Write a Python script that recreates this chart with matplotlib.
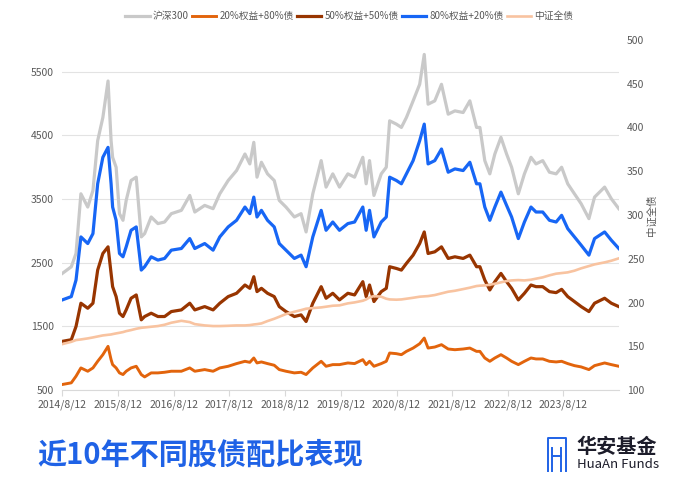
import datetime as dt
import matplotlib
matplotlib.use("Agg")
import matplotlib.pyplot as plt
from matplotlib.lines import Line2D

plt.rcParams['font.family'] = ['Noto Sans CJK SC', 'DejaVu Sans']

# values (approximate)
dates = [
    "2014-08-12", "2014-10-10", "2014-11-10", "2014-12-12", "2015-01-26", "2015-03-01",
    "2015-04-01", "2015-05-05", "2015-06-08", "2015-06-28", "2015-07-08", "2015-07-31",
    "2015-08-22", "2015-09-14", "2015-10-05", "2015-11-06", "2015-12-10", "2016-01-12",
    "2016-02-03", "2016-03-17", "2016-04-30", "2016-06-13", "2016-07-27", "2016-10-01",
    "2016-11-25", "2016-12-28", "2017-03-03", "2017-04-27", "2017-06-10", "2017-08-04",
    "2017-09-28", "2017-11-22", "2017-12-24", "2018-01-19", "2018-02-09", "2018-03-10",
    "2018-04-19", "2018-06-02", "2018-07-05", "2018-08-18", "2018-10-12", "2018-11-25",
    "2018-12-28", "2019-02-10", "2019-04-06", "2019-05-08", "2019-06-21", "2019-08-04",
    "2019-09-28", "2019-11-11", "2020-01-04", "2020-01-26", "2020-02-17", "2020-03-17",
    "2020-05-04", "2020-06-06", "2020-06-28", "2020-08-11", "2020-09-13", "2020-10-16",
    "2020-11-29", "2021-01-11", "2021-02-10", "2021-03-07", "2021-04-20", "2021-06-03",
    "2021-07-17", "2021-08-30", "2021-10-23", "2021-12-06", "2022-01-19", "2022-02-10",
    "2022-03-14", "2022-04-16", "2022-05-19", "2022-06-28", "2022-08-04", "2022-09-06",
    "2022-10-20", "2022-11-29", "2023-01-11", "2023-02-13", "2023-03-29", "2023-05-12",
    "2023-06-25", "2023-07-31", "2023-09-09", "2023-10-23", "2023-12-06", "2024-01-26",
    "2024-03-03", "2024-05-08", "2024-06-21", "2024-08-09",
]

hs300 = [
    2333, 2437, 2646, 3583, 3375, 3635, 4417, 4781, 5354, 4417, 4156, 4000,
    3271, 3167, 3479, 3792, 3844, 2906, 2958, 3219, 3115, 3140, 3271, 3323,
    3557, 3297, 3401, 3349, 3583, 3792, 3948, 4208, 4052, 4391, 3844, 4078,
    3896, 3792, 3479, 3375, 3219, 3271, 2984, 3583, 4104, 3688, 3896, 3688,
    3896, 3844, 4156, 3740, 4104, 3557, 3896, 4000, 4729, 4677, 4625, 4781,
    5042, 5302, 5771, 4990, 5042, 5302, 4833, 4885, 4859, 5042, 4625, 4625,
    4104, 3896, 4208, 4469, 4208, 4000, 3583, 3896, 4156, 4052, 4104, 3922,
    3896, 4000, 3740, 3583, 3427, 3193, 3531, 3688, 3505, 3349,
]

eq20 = [
    589, 615, 719, 849, 797, 849, 953, 1057, 1188, 979, 901, 849,
    771, 745, 797, 849, 875, 745, 708, 771, 771, 781, 797, 797,
    849, 797, 823, 797, 849, 875, 917, 953, 937, 1005, 927, 943,
    917, 891, 823, 797, 771, 781, 745, 849, 953, 875, 901, 901,
    927, 917, 979, 901, 953, 875, 917, 953, 1083, 1073, 1057, 1109,
    1161, 1229, 1318, 1161, 1177, 1214, 1146, 1135, 1146, 1161, 1109, 1109,
    1005, 953, 1005, 1057, 1005, 953, 901, 953, 1005, 990, 990, 953,
    943, 953, 917, 885, 865, 823, 885, 927, 901, 875,
]

eq50 = [
    1266, 1292, 1500, 1865, 1786, 1865, 2385, 2646, 2750, 2333, 2125, 1969,
    1708, 1656, 1760, 1943, 1995, 1604, 1656, 1708, 1656, 1656, 1734, 1760,
    1865, 1760, 1812, 1760, 1865, 1969, 2021, 2151, 2099, 2281, 2047, 2099,
    2021, 1969, 1812, 1734, 1656, 1682, 1578, 1865, 2125, 1943, 2021, 1917,
    2021, 1995, 2203, 1969, 2151, 1891, 2047, 2099, 2438, 2411, 2385, 2490,
    2620, 2802, 2984, 2646, 2672, 2750, 2568, 2594, 2568, 2620, 2438, 2438,
    2229, 2073, 2203, 2333, 2203, 2099, 1917, 2021, 2151, 2125, 2125, 2047,
    2031, 2083, 1969, 1891, 1812, 1734, 1865, 1943, 1865, 1812,
]

eq80 = [
    1917, 1969, 2229, 2906, 2802, 2958, 3740, 4156, 4312, 3740, 3375, 3167,
    2646, 2594, 2750, 3010, 3063, 2385, 2438, 2594, 2542, 2568, 2698, 2724,
    2880, 2724, 2802, 2698, 2906, 3063, 3167, 3375, 3271, 3531, 3219, 3323,
    3167, 3063, 2802, 2698, 2568, 2620, 2438, 2906, 3323, 3010, 3140, 3010,
    3115, 3140, 3375, 3010, 3323, 2906, 3140, 3219, 3844, 3792, 3740, 3896,
    4104, 4417, 4677, 4052, 4104, 4286, 3922, 3974, 3948, 4078, 3740, 3740,
    3375, 3167, 3375, 3609, 3401, 3219, 2880, 3140, 3375, 3297, 3297, 3167,
    3140, 3245, 3036, 2906, 2776, 2620, 2880, 2984, 2854, 2724,
]

bond = [
    152.6, 155.2, 157.2, 157.9, 159.1, 160.2, 161.3, 162.5, 163.2, 163.6, 164.0, 164.8,
    165.5, 166.3, 167.4, 168.6, 170.1, 171.2, 171.6, 172.4, 173.2, 174.7, 177.0, 179.2,
    177.7, 175.4, 173.9, 173.2, 173.2, 173.5, 173.9, 173.9, 174.3, 175.0, 175.4, 176.2,
    178.9, 181.5, 183.8, 186.9, 189.5, 191.4, 193.0, 193.7, 194.5, 195.3, 196.4, 196.8,
    199.1, 200.2, 202.1, 203.6, 205.9, 207.4, 206.7, 204.4, 203.6, 203.3, 203.6, 204.4,
    205.5, 206.7, 207.1, 207.4, 208.6, 210.5, 212.4, 213.5, 215.4, 217.0, 218.9, 219.3,
    219.6, 220.4, 221.5, 223.1, 224.6, 225.3, 225.7, 225.3, 226.1, 227.3, 228.8, 231.1,
    233.0, 233.7, 234.5, 236.4, 239.1, 241.7, 243.6, 245.9, 247.8, 250.5,
]

tick_dates = ["2014-08-12", "2015-08-12", "2016-08-12", "2017-08-12", "2018-08-12",
              "2019-08-12", "2020-08-12", "2021-08-12", "2022-08-12", "2023-08-12"]
tick_labels = ["2014/8/12", "2015/8/12", "2016/8/12", "2017/8/12", "2018/8/12",
               "2019/8/12", "2020/8/12", "2021/8/12", "2022/8/12", "2023/8/12"]

left_ticks = [500, 1500, 2500, 3500, 4500, 5500]
right_ticks = [100, 150, 200, 250, 300, 350, 400, 450, 500]

x = [dt.datetime.strptime(d, "%Y-%m-%d") for d in dates]
xt = [dt.datetime.strptime(d, "%Y-%m-%d") for d in tick_dates]

fig = plt.figure(figsize=(7, 4.92), dpi=100)
ax = fig.add_axes([0.089, 0.207, 0.795, 0.712])
ax2 = ax.twinx()

c_gray = '#c9c9c9'
c_orange = '#e2640c'
c_brown = '#983500'
c_blue = '#1766f5'
c_peach = '#f8c3a0'
txt = '#595959'

l1, = ax.plot(x, hs300, color=c_gray, lw=2.3, label='沪深300')
l2, = ax.plot(x, eq20, color=c_orange, lw=2.1, label='20%权益+80%债')
l3, = ax.plot(x, eq50, color=c_brown, lw=2.3, label='50%权益+50%债')
l4, = ax.plot(x, eq80, color=c_blue, lw=2.3, label='80%权益+20%债')
l5, = ax2.plot(x, bond, color=c_peach, lw=1.9, label='中证全债')

ax.set_xlim(x[0], x[-1])
ax.set_ylim(500, 6000)
ax2.set_ylim(100, 500)
ax.set_yticks(left_ticks)
ax2.set_yticks(right_ticks)
ax.set_xticks(xt)
ax.set_xticklabels(tick_labels)

ax.grid(axis='y', color='#e3e3e3', lw=0.8)
ax.set_axisbelow(True)
for a in (ax, ax2):
    for s in a.spines.values():
        s.set_visible(False)
ax.spines['bottom'].set_visible(True)
ax.spines['bottom'].set_color('#d9d9d9')
ax.tick_params(axis='x', colors='#d9d9d9', length=4, labelcolor=txt, labelsize=7.5, pad=3)
ax.tick_params(axis='y', length=0, labelcolor=txt, labelsize=7.5, pad=6)
ax2.tick_params(axis='y', length=0, labelcolor=txt, labelsize=7.5, pad=6)
ax2.set_ylabel('中证全债', color=txt, fontsize=7.5, rotation=90, labelpad=2)

fig.legend(handles=[l1, l2, l3, l4, l5], loc='center', bbox_to_anchor=(0.499, 0.967),
           ncol=5, frameon=False, fontsize=7, handlelength=2.5, columnspacing=0.35,
           handletextpad=0.3, labelcolor=txt)

fig.text(0.054, 0.075, '近10年不同股债配比表现', color='#1f62e6', fontsize=21,
         fontweight='bold', va='center', ha='left')

# logo icon
blue = '#1f62e6'
ix0, ix1 = 0.783, 0.808
iy0, iy1 = 0.042, 0.11
icon = [
    ([ix0, ix0, ix1, ix1], [iy0, iy1, iy1, iy0]),
    ([ix0 + 0.006, ix0 + 0.006], [iy0, iy1 - 0.02]),
    ([ix1 - 0.006, ix1 - 0.006], [iy0, iy1 - 0.02]),
    ([ix0 + 0.006, ix1 - 0.006], [iy0 + 0.032, iy0 + 0.032]),
]
for xs, ys in icon:
    fig.add_artist(Line2D(xs, ys, color=blue, lw=1.4, transform=fig.transFigure))
fig.text(0.824, 0.092, '华安基金', color='#1c1c2a', fontsize=14.5, fontweight='bold',
         va='center', ha='left')
fig.text(0.824, 0.055, 'HuaAn Funds', color='#1c1c2a', fontsize=9.5,
         va='center', ha='left')

fig.savefig('out.png', dpi=100)
